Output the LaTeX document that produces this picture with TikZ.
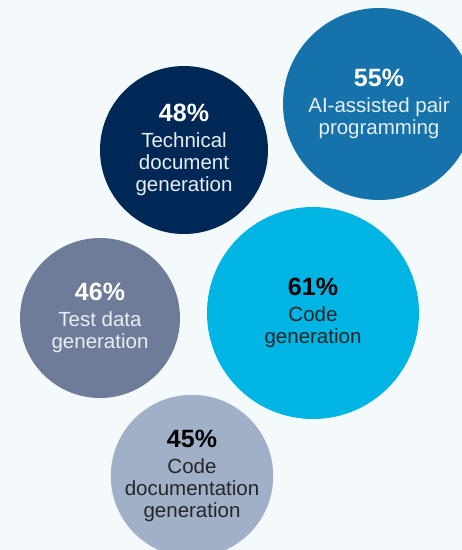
\documentclass[tikz,border=0pt]{standalone}
\usepackage{fontspec}
\setmainfont{Liberation Sans}
\usepackage{xcolor}
\usepackage{tikz}
\definecolor{pagebg}{RGB}{244,250,251}
\definecolor{pairblue}{RGB}{22,114,170}
\definecolor{navyblue}{RGB}{0,40,86}
\definecolor{codecyan}{RGB}{0,180,228}
\definecolor{slategray}{RGB}{110,124,153}
\definecolor{paleslate}{RGB}{160,176,200}
\definecolor{lighttext}{RGB}{232,238,244}
\newcommand{\pct}[1]{{\fontsize{25}{28}\selectfont\bfseries #1}\\[4pt]}

\begin{document}
\begin{tikzpicture}[x=1pt, y=-1pt,
  bubble/.style={circle, inner sep=0pt, align=center, font=\fontsize{20.5}{22}\selectfont},
  darkbubble/.style={bubble, text=lighttext},
  lightbubble/.style={bubble, text=black!85}]

  \useasboundingbox (0,0) rectangle (462,550);
  \fill [pagebg] (0,0) rectangle (462,550);
  \clip (0,0) rectangle (462,550);

  \node [darkbubble, fill=pairblue, minimum size=192pt] (pair) at (379,104)
    {\pct{\color{white}55\%}AI-assisted pair\\programming};
  \node [darkbubble, fill=navyblue, minimum size=168pt] (techdoc) at (184,150)
    {\pct{\color{white}48\%}Technical\\document\\generation};
  \node [lightbubble, fill=codecyan, minimum size=212pt] (codegen) at (313,313)
    {\pct{\color{black}61\%}Code\\generation};
  \node [darkbubble, fill=slategray, minimum size=160pt] (testdata) at (100,318)
    {\pct{\color{white}46\%}Test data\\generation};
  \node [lightbubble, fill=paleslate, minimum size=158pt] (codedoc) at (192,476)
    {\pct{\color{black}45\%}Code\\documentation\\generation};
\end{tikzpicture}
\end{document}
